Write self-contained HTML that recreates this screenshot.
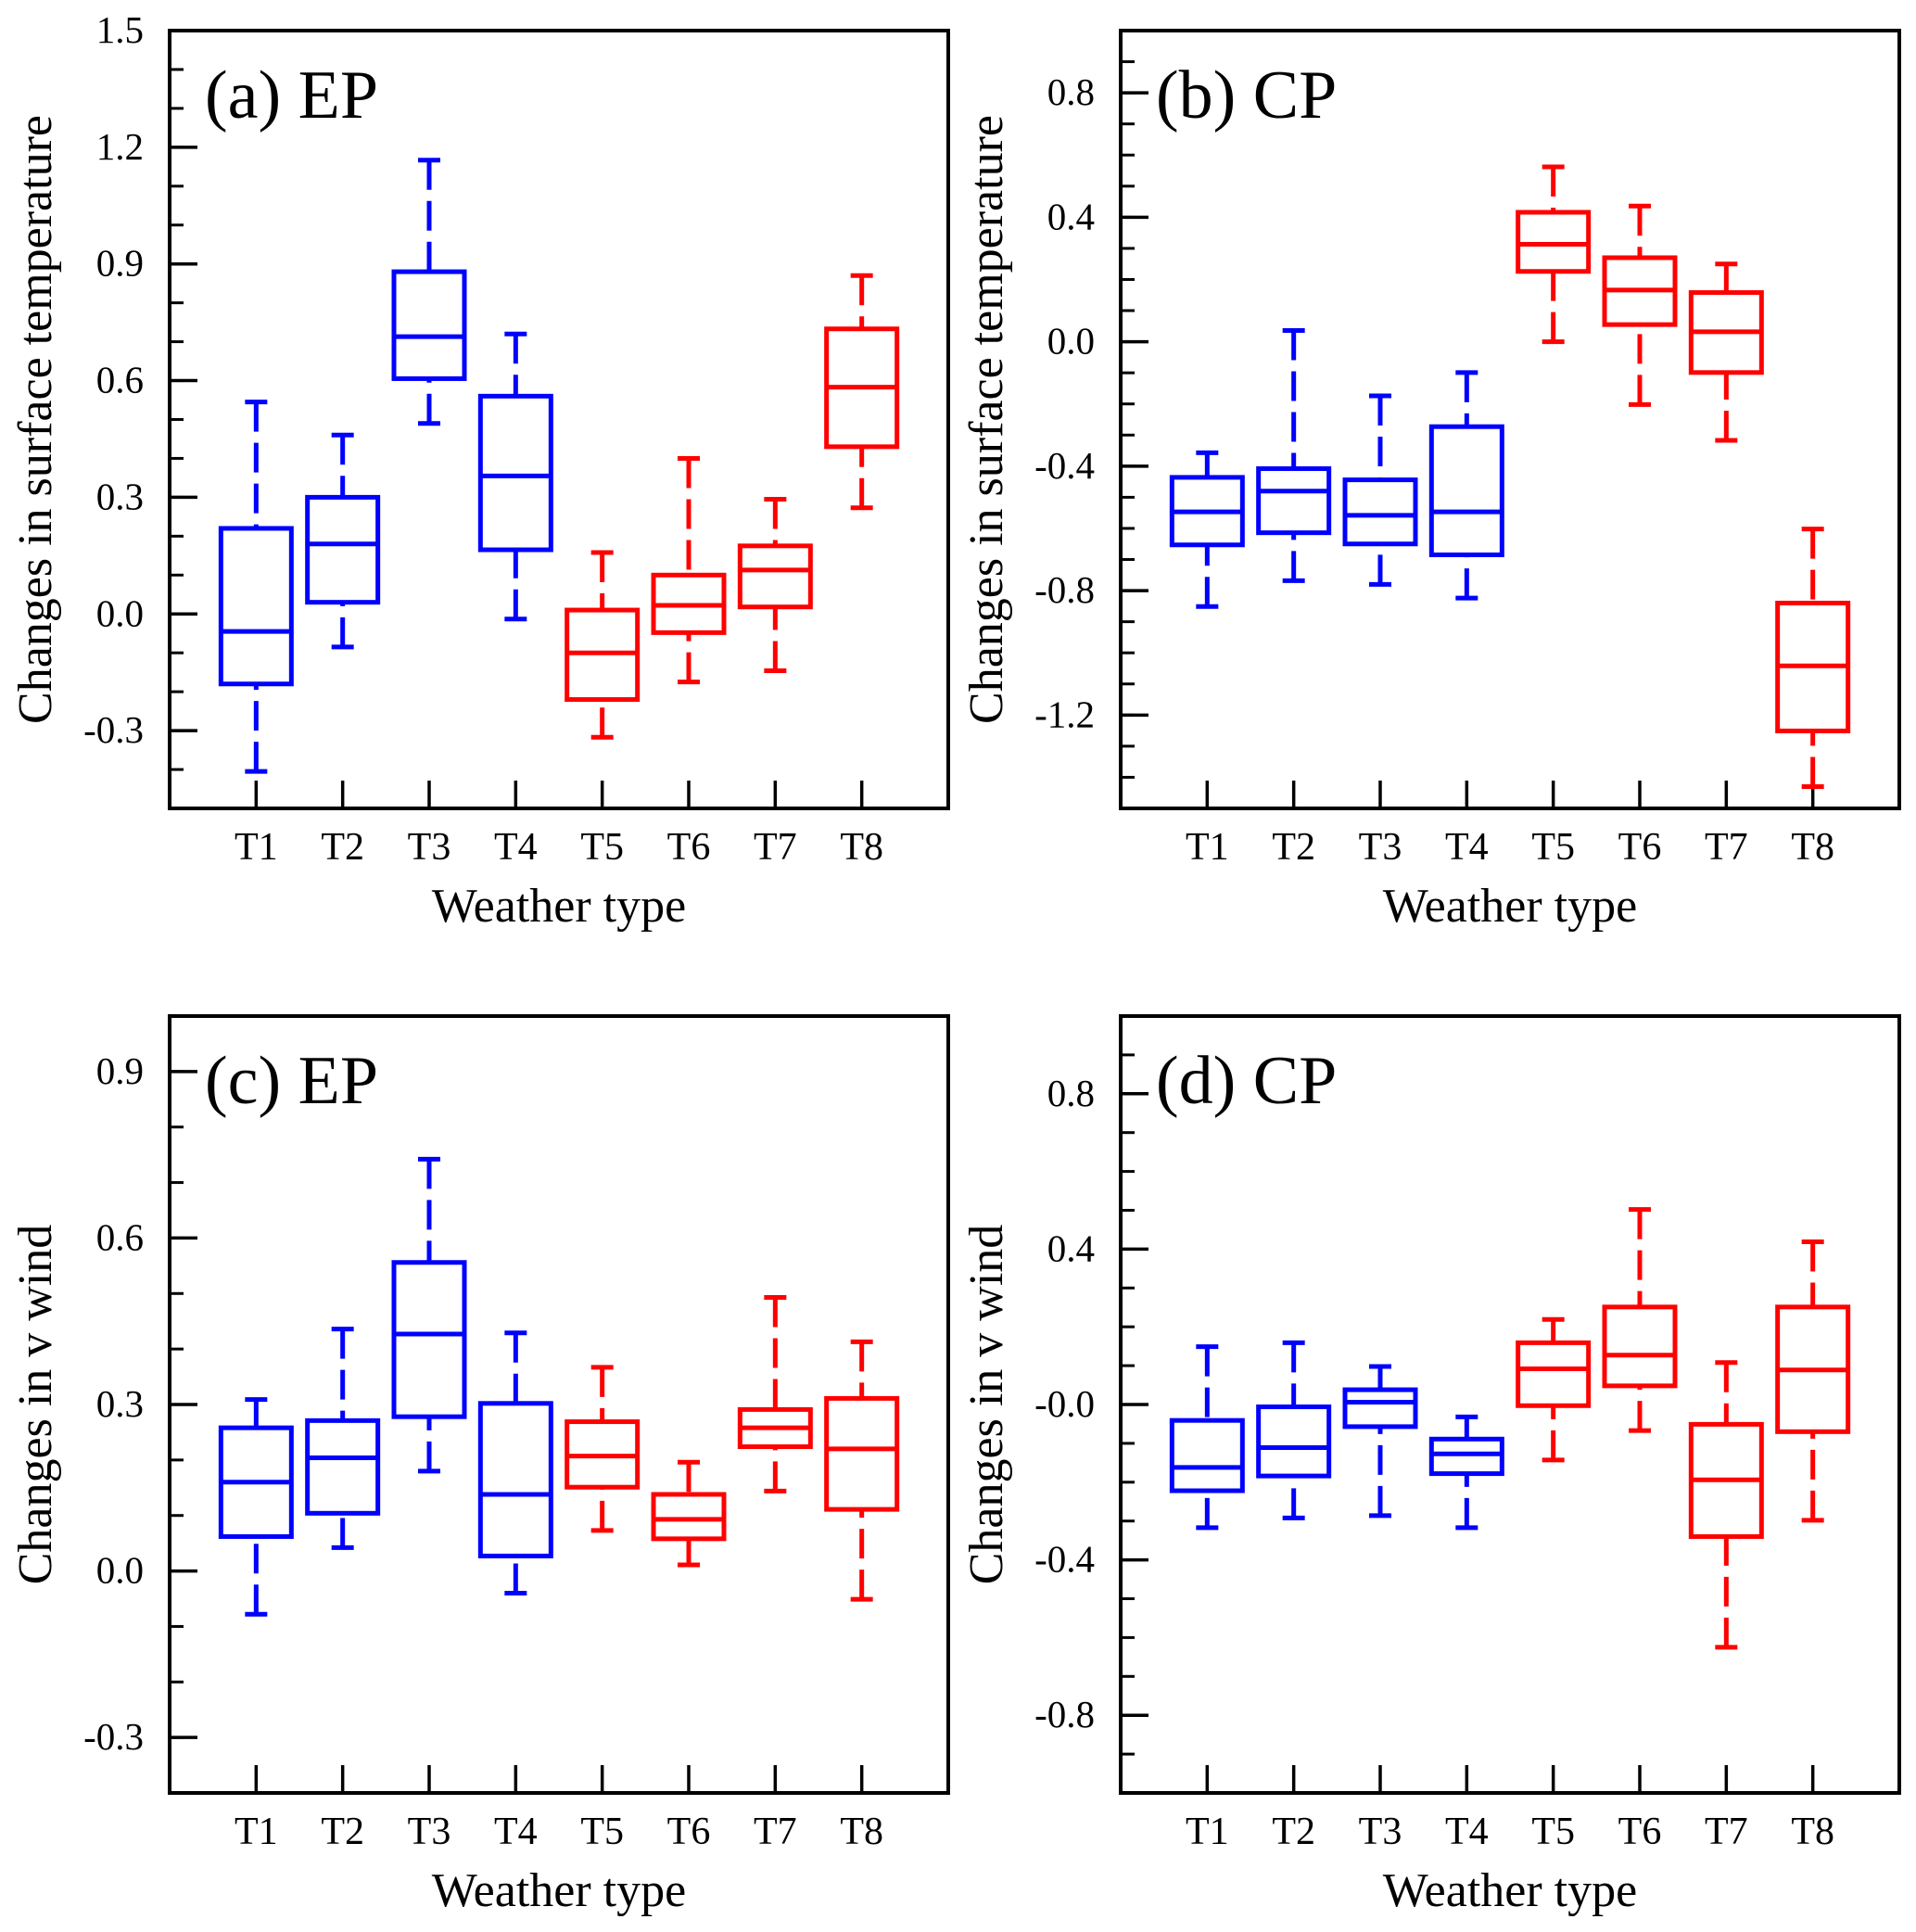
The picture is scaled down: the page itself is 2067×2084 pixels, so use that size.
<!DOCTYPE html>
<html><head><meta charset="utf-8"><style>
html,body{margin:0;padding:0;background:#fff;}
svg{display:block;font-family:"Liberation Serif","DejaVu Serif",serif;}
</style></head><body>
<svg id="fig" width="2067" height="2084" viewBox="0 0 2067 2084" xmlns="http://www.w3.org/2000/svg"></svg>
<script>
const categories = ["T1","T2","T3","T4","T5","T6","T7","T8"];
const colorsByType = ["blue","blue","blue","blue","red","red","red","red"];
// each row: [whiskerHigh, Q3, median, Q1, whiskerLow]
const statsA = [[0.545,0.22,-0.045,-0.18,-0.405],[0.46,0.30,0.18,0.03,-0.085],[1.167,0.88,0.713,0.605,0.49],[0.72,0.56,0.355,0.165,-0.013],[0.158,0.01,-0.10,-0.22,-0.317],[0.40,0.10,0.022,-0.048,-0.175],[0.295,0.175,0.113,0.018,-0.146],[0.87,0.733,0.583,0.43,0.273]];
const statsB = [[-0.357,-0.436,-0.547,-0.653,-0.851],[0.036,-0.408,-0.48,-0.614,-0.768],[-0.174,-0.444,-0.558,-0.65,-0.78],[-0.099,-0.273,-0.547,-0.685,-0.824],[0.562,0.416,0.313,0.226,0.0],[0.436,0.27,0.166,0.055,-0.202],[0.25,0.158,0.032,-0.099,-0.317],[-0.602,-0.84,-1.042,-1.251,-1.43]];
const statsC = [[0.309,0.258,0.16,0.062,-0.078],[0.436,0.271,0.204,0.104,0.042],[0.742,0.556,0.427,0.278,0.18],[0.429,0.302,0.138,0.027,-0.04],[0.367,0.269,0.207,0.151,0.073],[0.196,0.138,0.093,0.058,0.011],[0.493,0.291,0.258,0.224,0.144],[0.413,0.311,0.22,0.111,-0.051]];
const statsD = [[0.149,-0.041,-0.162,-0.222,-0.317],[0.159,-0.006,-0.111,-0.184,-0.292],[0.098,0.038,0.006,-0.057,-0.286],[-0.032,-0.089,-0.127,-0.178,-0.317],[0.219,0.159,0.092,-0.003,-0.143],[0.502,0.251,0.127,0.048,-0.067],[0.108,-0.051,-0.194,-0.34,-0.625],[0.419,0.251,0.089,-0.07,-0.298]];
const ticksA = ["1.5","1.2","0.9","0.6","0.3","0.0","-0.3"];
const ticksB = ["0.8","0.4","0.0","-0.4","-0.8","-1.2"];
const ticksC = ["0.9","0.6","0.3","0.0","-0.3"];
const ticksD = ["0.8","0.4","-0.0","-0.4","-0.8"];
const tickValsA = [1.5,1.2,0.9,0.6,0.3,0.0,-0.3];
const tickValsB = [0.8,0.4,0.0,-0.4,-0.8,-1.2];
const tickValsC = [0.9,0.6,0.3,0.0,-0.3];
const tickValsD = [0.8,0.4,0.0,-0.4,-0.8];

const NS="http://www.w3.org/2000/svg";
const svg=document.getElementById('fig');
function mk(tag,attrs,parent){const e=document.createElementNS(NS,tag);for(const k in attrs)e.setAttribute(k,attrs[k]);(parent||svg).appendChild(e);return e;}

function panel(key,L,T,R,B,ymin,ymax,stats,tickLabels,tickVals,title,ylabel){
  const g=mk('g',{});
  
  
  const y=v=>B-(v-ymin)/(ymax-ymin)*(B-T);
  const x=i=>L+(i+1)*(R-L)/9;
  const n=Math.round((ymax-ymin)*10);
  for(let k=0;k<=n;k++){const v=ymin+k*0.1;const yy=y(v);
    const t=mk('line',{x1:L,x2:L+15,y1:yy,y2:yy,stroke:'#000','stroke-width':3},g);
    
    }
  tickVals.forEach((v,i)=>{const yy=y(v);
    const t=mk('line',{x1:L,x2:L+30,y1:yy,y2:yy,stroke:'#000','stroke-width':3.5},g);
    
    
    const tx=mk('text',{x:L-28,y:yy+13,'text-anchor':'end','font-size':41},g);
    tx.textContent=tickLabels[i];
    
    });
  categories.forEach((c,i)=>{const xx=x(i);
    const t=mk('line',{x1:xx,x2:xx,y1:B,y2:B-30,stroke:'#000','stroke-width':3.5},g);
    
    
    const tx=mk('text',{x:xx,y:B+55,'text-anchor':'middle','font-size':42},g);
    tx.textContent=c;
    
    
    const s=stats[i];const col=colorsByType[i];
    const bx=mk('g',{stroke:col,'stroke-width':5,fill:'none'},g);
    
    
    mk('line',{x1:xx,x2:xx,y1:y(s[0]),y2:y(s[1]),'stroke-dasharray':'32 12'},bx);
    mk('line',{x1:xx,x2:xx,y1:y(s[4]),y2:y(s[3]),'stroke-dasharray':'32 12'},bx);
    mk('line',{x1:xx-12,x2:xx+12,y1:y(s[0]),y2:y(s[0])},bx);
    mk('line',{x1:xx-12,x2:xx+12,y1:y(s[4]),y2:y(s[4])},bx);
    mk('rect',{x:xx-38,y:y(s[1]),width:76,height:y(s[3])-y(s[1]),fill:'#fff'},bx);
    mk('line',{x1:xx-38,x2:xx+38,y1:y(s[2]),y2:y(s[2])},bx);
  });
  const fr=mk('rect',{x:L,y:T,width:R-L,height:B-T,fill:'none',stroke:'#000','stroke-width':4},g);
  
  
  const ttl=mk('text',{x:L+38,y:T+94,'font-size':74},g);
  ttl.textContent=title;
  
  
  const xl=mk('text',{x:(L+R)/2,y:B+122,'text-anchor':'middle','font-size':52},g);
  xl.textContent='Weather type';
  
  
  const yl=mk('text',{x:0,y:0,'text-anchor':'middle','font-size':52,transform:`translate(${L-128},${(T+B)/2}) rotate(-90)`},g);
  yl.textContent=ylabel;
  
  
}
panel('a',183,33,1023,872,-0.5,1.5,statsA,ticksA,tickValsA,'(a) EP','Changes in surface temperature');
panel('b',1209,33,2049,872,-1.5,1.0,statsB,ticksB,tickValsB,'(b) CP','Changes in surface temperature');
panel('c',183,1096,1023,1934,-0.4,1.0,statsC,ticksC,tickValsC,'(c) EP','Changes in v wind');
panel('d',1209,1096,2049,1934,-1.0,1.0,statsD,ticksD,tickValsD,'(d) CP','Changes in v wind');
</script>
</body></html>
